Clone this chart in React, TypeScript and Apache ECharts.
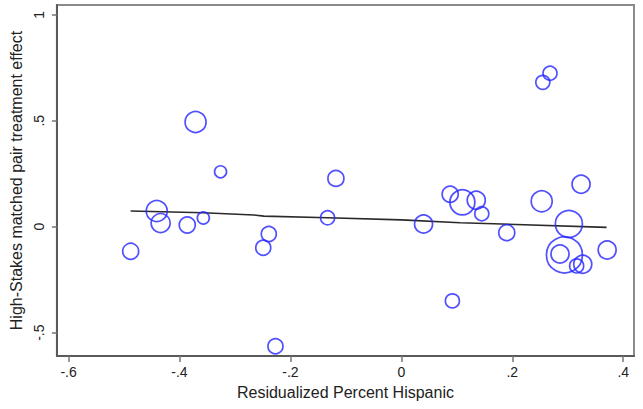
import React, { useEffect, useRef } from "react";
import * as echarts from "echarts";

// Residualized percent Hispanic (x) vs. matched-pair treatment effect (y)
const xValues = [
  -0.488, -0.441, -0.434, -0.386, -0.371, -0.357, -0.326, -0.249, -0.239, -0.227,
  -0.133, -0.118, 0.04, 0.088, 0.11, 0.135, 0.145, 0.092, 0.19, 0.255,
  0.268, 0.253, 0.302, 0.294, 0.286, 0.316, 0.327, 0.324, 0.371,
];
const yValues = [
  -0.116, 0.074, 0.017, 0.008, 0.494, 0.041, 0.259, -0.099, -0.034, -0.564,
  0.042, 0.228, 0.013, 0.153, 0.115, 0.125, 0.061, -0.35, -0.028, 0.681,
  0.724, 0.12, 0.013, -0.133, -0.129, -0.185, -0.177, 0.2, -0.11,
];
// marker weights (circle radius in px)
const weights = [
  8, 10.5, 9.5, 8, 10.5, 6, 6, 7.5, 7.5, 7.5,
  7, 8, 9, 8, 12.5, 9, 7, 7, 8, 7,
  7, 10.5, 13.5, 18, 9, 7, 9, 9, 9,
];

// fitted line
const fitX = [-0.488, -0.357, -0.266, -0.248, -0.133, 0.0, 0.106, 0.37];
const fitY = [0.074, 0.066, 0.055, 0.05, 0.042, 0.032, 0.019, -0.003];

const xTicks = [-0.6, -0.4, -0.2, 0, 0.2, 0.4];
const yTicks = [-0.5, 0, 0.5, 1];

const xTitle = "Residualized Percent Hispanic";
const yTitle = "High-Stakes matched pair treatment effect";

const fmt = (v: number) => {
  const r = Math.round(v * 100) / 100;
  if (r === 0) return "0";
  const s = String(Math.abs(r)).replace(/^0/, "");
  return (r < 0 ? "-" : "") + s;
};

export default function App() {
  const ref = useRef<HTMLDivElement>(null);
  useEffect(() => {
    document.body.style.margin = "0";
    const chart = echarts.init(ref.current!, null, { renderer: "svg" });
    const font = "Liberation Sans, Arial, Helvetica, sans-serif";
    const scatterData = xValues.map((x, i) => [x, yValues[i], weights[i]]);
    const fitData = fitX.map((x, i) => [x, fitY[i]]);
    chart.setOption({
      animation: false,
      backgroundColor: "#ffffff",
      grid: {
        left: 56,
        right: 9,
        top: 5,
        bottom: 53,
        show: true,
        borderColor: "#8a8a8a",
        borderWidth: 2,
        containLabel: false,
      },
      xAxis: {
        type: "value",
        min: -0.621,
        max: 0.4194,
        name: xTitle,
        nameLocation: "middle",
        nameGap: 28,
        nameTextStyle: { fontFamily: font, fontSize: 16, color: "#222" },
        axisLine: { show: true, onZero: false, lineStyle: { color: "#5a5a5a", width: 2 } },
        axisTick: {
          show: true,
          length: 6,
          customValues: xTicks,
          lineStyle: { color: "#777", width: 1.5 },
        },
        axisLabel: {
          customValues: xTicks,
          formatter: (v: number) => fmt(v),
          fontFamily: font,
          fontSize: 14,
          color: "#222",
          margin: 9,
        },
        splitLine: { show: false },
      },
      yAxis: {
        type: "value",
        min: -0.61,
        max: 1.046,
        name: yTitle,
        nameLocation: "middle",
        nameGap: 25,
        nameRotate: 90,
        nameTextStyle: { fontFamily: font, fontSize: 16, color: "#222" },
        axisLine: { show: true, onZero: false, lineStyle: { color: "#5a5a5a", width: 2 } },
        axisTick: {
          show: true,
          length: 5,
          customValues: yTicks,
          lineStyle: { color: "#777", width: 1.5 },
        },
        axisLabel: {
          customValues: yTicks,
          formatter: (v: number) => fmt(v),
          rotate: 90,
          fontFamily: font,
          fontSize: 14,
          color: "#222",
          margin: 11,
        },
        splitLine: { show: false },
      },
      series: [
        {
          type: "line",
          data: fitData,
          symbol: "none",
          lineStyle: { color: "#2a2a2a", width: 1.6 },
          silent: true,
          z: 1,
        },
        {
          type: "scatter",
          data: scatterData,
          symbol: "circle",
          symbolSize: (d: number[]) => d[2] * 2,
          itemStyle: {
            color: "rgba(0,0,0,0)",
            borderColor: "#2424ff",
            borderWidth: 1.7,
          },
          emphasis: { disabled: true },
          silent: true,
          clip: false,
          z: 2,
        },
      ],
    });
    return () => chart.dispose();
  }, []);
  return <div ref={ref} style={{ width: 643, height: 409 }} />;
}
